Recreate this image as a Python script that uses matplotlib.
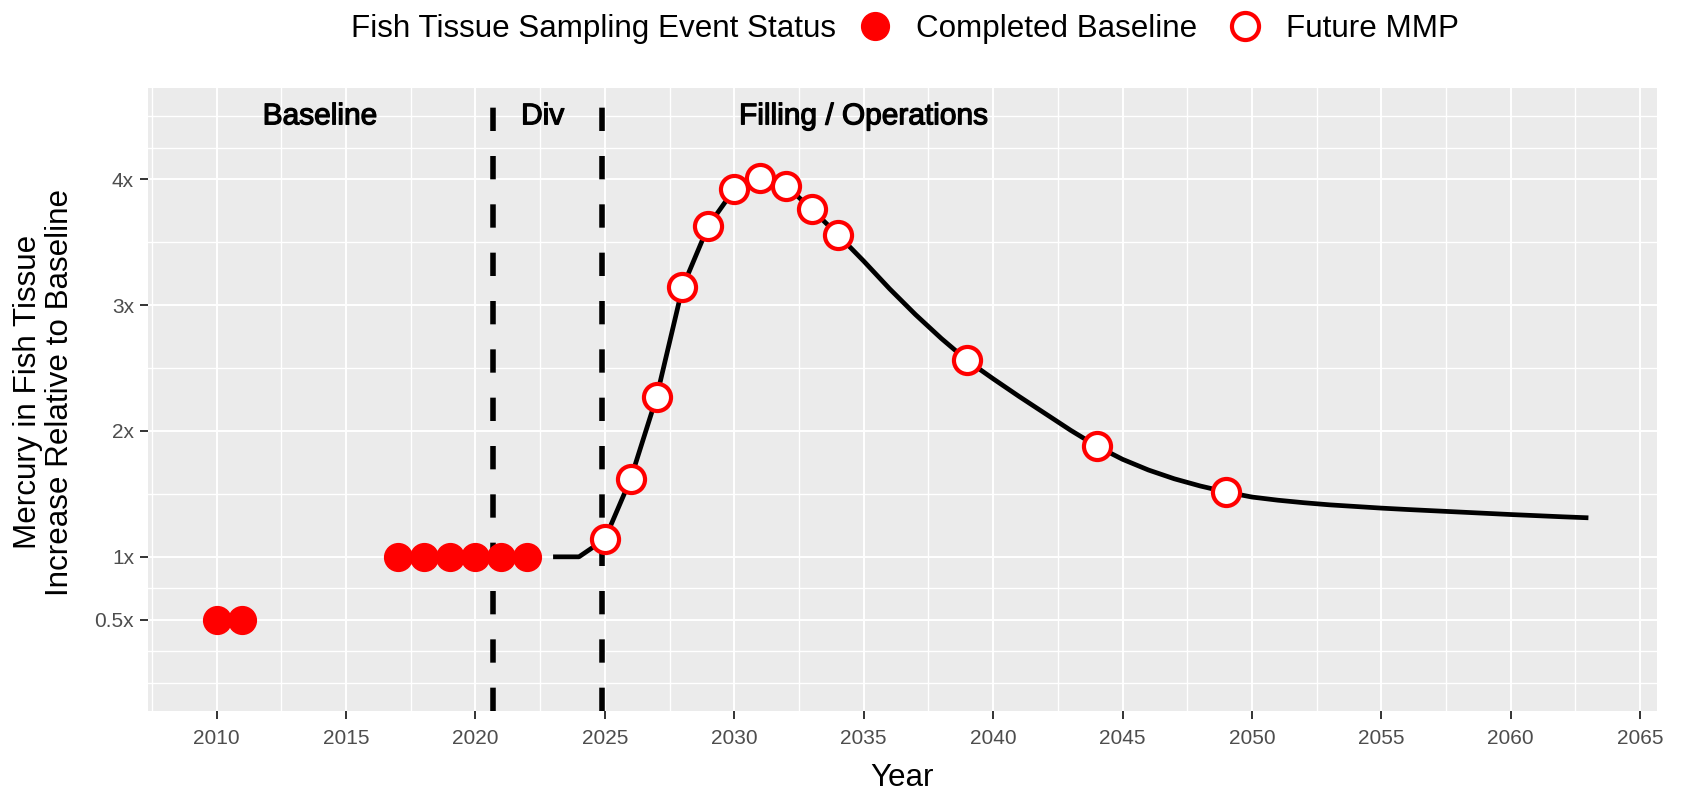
import matplotlib
matplotlib.use('Agg')
import matplotlib.pyplot as plt
from matplotlib.lines import Line2D
import matplotlib.patheffects as pe

# ---------------- data ----------------
baseline_years = [2010, 2011, 2017, 2018, 2019, 2020, 2021, 2022]
baseline_values = [0.5, 0.5, 1.0, 1.0, 1.0, 1.0, 1.0, 1.0]

future_years = [2025, 2026, 2027, 2028, 2029, 2030, 2031, 2032, 2033, 2034,
                2039, 2044, 2049]
future_values = [1.14, 1.62, 2.27, 3.14, 3.63, 3.92, 4.01, 3.95, 3.76, 3.56,
                 2.56, 1.88, 1.515]

model_years = list(range(2023, 2064))
model_values = [1.00, 1.00, 1.14, 1.62, 2.27, 3.14, 3.63, 3.92, 4.01, 3.95,
                3.76, 3.56, 3.35, 3.13, 2.925, 2.735, 2.56, 2.415, 2.275, 2.14,
                2.005, 1.88, 1.775, 1.69, 1.62, 1.563, 1.515, 1.475, 1.45, 1.43,
                1.413, 1.40, 1.387, 1.376, 1.366, 1.356, 1.346, 1.336, 1.327,
                1.318, 1.31]

phase_lines = [2020.67, 2024.88]
phase_labels = ['Baseline', 'Div', 'Filling / Operations']
phase_label_x = [2014.0, 2022.6, 2035.0]
phase_label_y = 4.5

x_breaks = list(range(2010, 2066, 5))
x_minor = [2007.5 + 5 * i for i in range(12)]
y_breaks = [0.5, 1, 2, 3, 4]
y_labels = ['0.5x', '1x', '2x', '3x', '4x']
y_minor = [0, 0.25, 0.75, 1.5, 2.5, 3.5, 4.25, 4.5]

legend_title = 'Fish Tissue Sampling Event Status'
legend_labels = ['Completed Baseline', 'Future MMP']

# ---------------- style ----------------
FONT = ['Liberation Sans', 'DejaVu Sans']
plt.rcParams['font.family'] = FONT
RED = '#FF0000'
PANEL = '#EBEBEB'

W, H, DPI = 1682, 793, 100
fig = plt.figure(figsize=(W / DPI, H / DPI), dpi=DPI)
left, right, top, bottom = 148, 1657, 88, 711
ax = fig.add_axes([left / W, 1 - bottom / H, (right - left) / W, (bottom - top) / H])
ax.set_facecolor(PANEL)
for s in ax.spines.values():
    s.set_visible(False)

ax.set_xlim(2007.35, 2065.65)
ax.set_ylim(-0.225, 4.725)

ax.set_xticks(x_breaks)
ax.set_xticks(x_minor, minor=True)
ax.set_yticks(y_breaks)
ax.set_yticklabels(y_labels)
ax.set_yticks(y_minor, minor=True)
ax.set_axisbelow(True)
ax.grid(which='major', color='white', lw=1.4)
ax.grid(which='minor', color='white', lw=1.0)
ax.tick_params(which='minor', length=0)
ax.tick_params(which='major', length=6, width=1.4, color='#333333',
               labelcolor='#4D4D4D', labelsize=15)
ax.tick_params(axis='x', pad=7)
ax.tick_params(axis='y', pad=4)

# phase separators
for xv in phase_lines:
    ax.axvline(xv, color='black', lw=4.0, dashes=(4.2, 4.5), zorder=2,
               solid_capstyle='butt', dash_capstyle='butt')

# model line
ax.plot(model_years, model_values, color='black', lw=3.4, zorder=3,
        solid_joinstyle='round', solid_capstyle='butt')

# points
ax.plot(baseline_years, baseline_values, 'o', color=RED, ms=20, mec=RED,
        mew=1, zorder=4, linestyle='none')
ax.plot(future_years, future_values, 'o', mfc='white', mec=RED, ms=19.5,
        mew=3.0, zorder=4, linestyle='none')

# phase labels
for lx, lab in zip(phase_label_x, phase_labels):
    ax.text(lx, phase_label_y, lab, ha='center', va='center', fontsize=21.5,
            color='black', zorder=5,
            path_effects=[pe.withStroke(linewidth=0.9, foreground='black')])

# axis titles
fig.text(902.5 / W, 1 - 778 / H, 'Year', ha='center', va='center',
         fontsize=22.6)
fig.text(44 / W, 1 - 392 / H,
         'Mercury in Fish Tissue\nIncrease Relative to Baseline',
         ha='center', va='center', rotation=90, fontsize=22.6,
         linespacing=1.05, multialignment='center')

# legend
fig.text(351 / W, 1 - 29 / H, legend_title, ha='left', va='center',
         fontsize=22.6)
handles = [
    Line2D([], [], marker='o', color=RED, mec=RED, ms=20, mew=1,
           linestyle='none'),
    Line2D([], [], marker='o', mfc='white', mec=RED, ms=19.5, mew=3.0,
           linestyle='none'),
]
leg = fig.legend(handles, legend_labels, ncol=2, loc='center left',
                 bbox_to_anchor=(859 / W, 1 - 29 / H), frameon=False,
                 fontsize=22.6, handlelength=1.0, handletextpad=0.8,
                 columnspacing=1.05, borderpad=0, borderaxespad=0)

fig.savefig('out.png', dpi=DPI)
